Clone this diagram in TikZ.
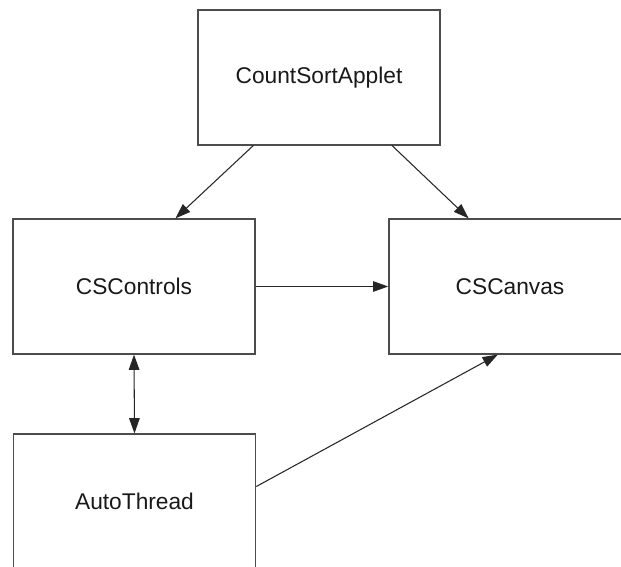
\documentclass[tikz,border=0pt]{standalone}
\usepackage{fontspec}
\setmainfont{Liberation Sans}
\usetikzlibrary{arrows.meta,calc}

\begin{document}
\begin{tikzpicture}[x=0.03cm,y=-0.03cm,
    classbox/.style={draw=black!70,line width=1.3pt,minimum width=7.26cm,minimum height=4.04cm,
      inner sep=0pt,text=black!90,font=\fontsize{19.4}{23}\selectfont},
    link/.style={draw=black!85,line width=0.9pt,-{Triangle[length=13pt,width=9pt]}}]
        \useasboundingbox (0,0) rectangle (621,567);

        \node[classbox](applet) at (319,77.5){CountSortApplet};
        \node[classbox](controls) at (134,286.5){CSControls};
        \node[classbox](canvas) at (510,286.5){CSCanvas};
        \node[classbox](thread) at (134.5,501.5){AutoThread};

        \draw[link]($(applet.south west)!0.23!(applet.south east)$)--($(controls.north west)!0.67!(controls.north east)$);
        \draw[link]($(applet.south west)!0.80!(applet.south east)$)--($(canvas.north west)!0.33!(canvas.north east)$);
        \draw[link](controls.east)--(canvas.west);
        \draw[link,{Triangle[length=13pt,width=9pt]}-{Triangle[length=13pt,width=9pt]}](controls.south)--(thread.north);
        \draw[link]($(thread.north east)!0.39!(thread.south east)$)--($(canvas.south west)!0.45!(canvas.south east)$);
    \end{tikzpicture}
\end{document}
